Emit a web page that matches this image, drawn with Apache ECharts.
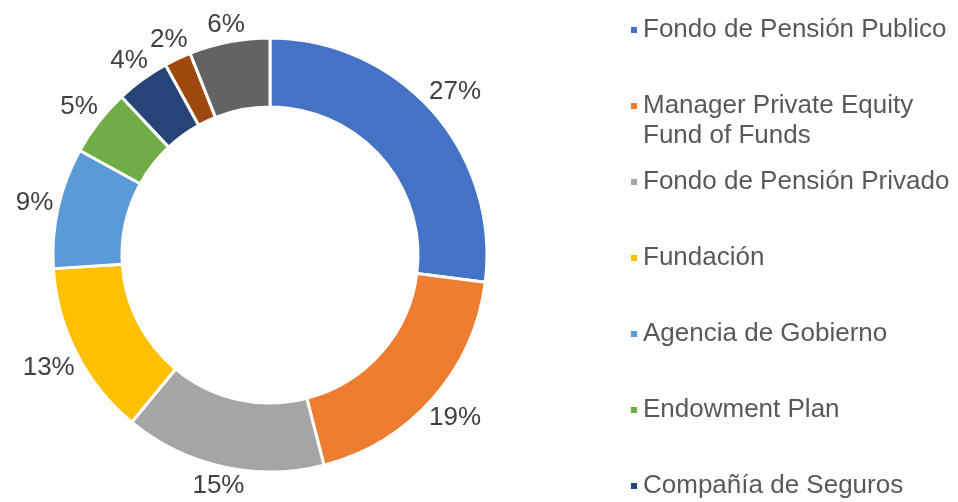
<!DOCTYPE html>
<html>
<head>
<meta charset="utf-8">
<script src="https://cdn.jsdelivr.net/npm/echarts@6/dist/echarts.min.js"></script>
<style>html,body{margin:0;padding:0;background:#fff;}#c{width:958px;height:502px;}</style>
</head>
<body>
<div id="c"></div>
<script>
const categories = [
  'Fondo de Pensión Publico',
  'Manager Private Equity\nFund of Funds',
  'Fondo de Pensión Privado',
  'Fundación',
  'Agencia de Gobierno',
  'Endowment Plan',
  'Compañía de Seguros',
  'Family Office',
  'Otros'
];
const values = [27, 19, 15, 13, 9, 5, 4, 2, 6];
const colors = ['#4472C4', '#ED7D31', '#A5A5A5', '#FFC000', '#5B9BD5', '#70AD47', '#264478', '#9E480E', '#636363'];

const FONT = '"Liberation Sans", Arial, sans-serif';
const CENTER = [270, 255];
const chart = echarts.init(document.getElementById('c'), null, {renderer: 'canvas'});
const data = categories.map((n, i) => ({name: n, value: values[i], itemStyle: {color: colors[i]}}));
const labelData = categories.map((n, i) => ({name: n, value: values[i]}));

// one legend block per slot (fixed slot pitch; a multi-line entry keeps its
// marker on the first line and grows downward)
const SLOT_TOP = 25, SLOT_PITCH = 76, LINE_H = 30;
const legends = categories.map((n, i) => {
  const extra = n.split('\n').length - 1;
  return {
    orient: 'vertical',
    left: 624,
    top: SLOT_TOP + SLOT_PITCH * i - LINE_H / 2 - extra * LINE_H,
    itemWidth: 8,
    itemHeight: 8,
    icon: 'rect',
    selectedMode: false,
    formatter: (name) => ' \n'.repeat(extra) + name,
    textStyle: {fontFamily: FONT, fontSize: 26, lineHeight: LINE_H, color: '#595959'},
    data: [n]
  };
});

// push each data label out so that its box sits just outside the ring
const LABEL_GAP_R = 222;
function labelLayout(params) {
  const r = params.labelRect;
  const lx = r.x + r.width / 2, ly = r.y + r.height / 2;
  const vx = lx - CENTER[0], vy = ly - CENTER[1];
  const len = Math.sqrt(vx * vx + vy * vy) || 1;
  const ux = vx / len, uy = vy / len;
  const hw = r.width / 2 - 1, hh = r.height / 2 - 4;
  const d = LABEL_GAP_R + hw * Math.abs(ux) + hh * Math.abs(uy);
  return {x: CENTER[0] + ux * d, y: CENTER[1] + uy * d};
}

chart.setOption({
  animation: false,
  backgroundColor: '#fff',
  legend: legends,
  series: [
    {
      type: 'pie',
      center: CENTER,
      radius: [148, 217],
      startAngle: 90,
      clockwise: true,
      silent: true,
      itemStyle: {borderColor: '#fff', borderWidth: 3},
      label: {show: false},
      labelLine: {show: false},
      data: data
    },
    {
      type: 'pie',
      center: CENTER,
      radius: [204, 284],
      startAngle: 90,
      clockwise: true,
      silent: true,
      itemStyle: {color: 'transparent', borderWidth: 0},
      label: {
        show: true,
        position: 'inside',
        align: 'center',
        verticalAlign: 'middle',
        formatter: '{c}%',
        fontFamily: FONT,
        fontSize: 26,
        color: '#404040'
      },
      labelLine: {show: false},
      labelLayout: labelLayout,
      data: labelData
    }
  ]
});
</script>
</body>
</html>
